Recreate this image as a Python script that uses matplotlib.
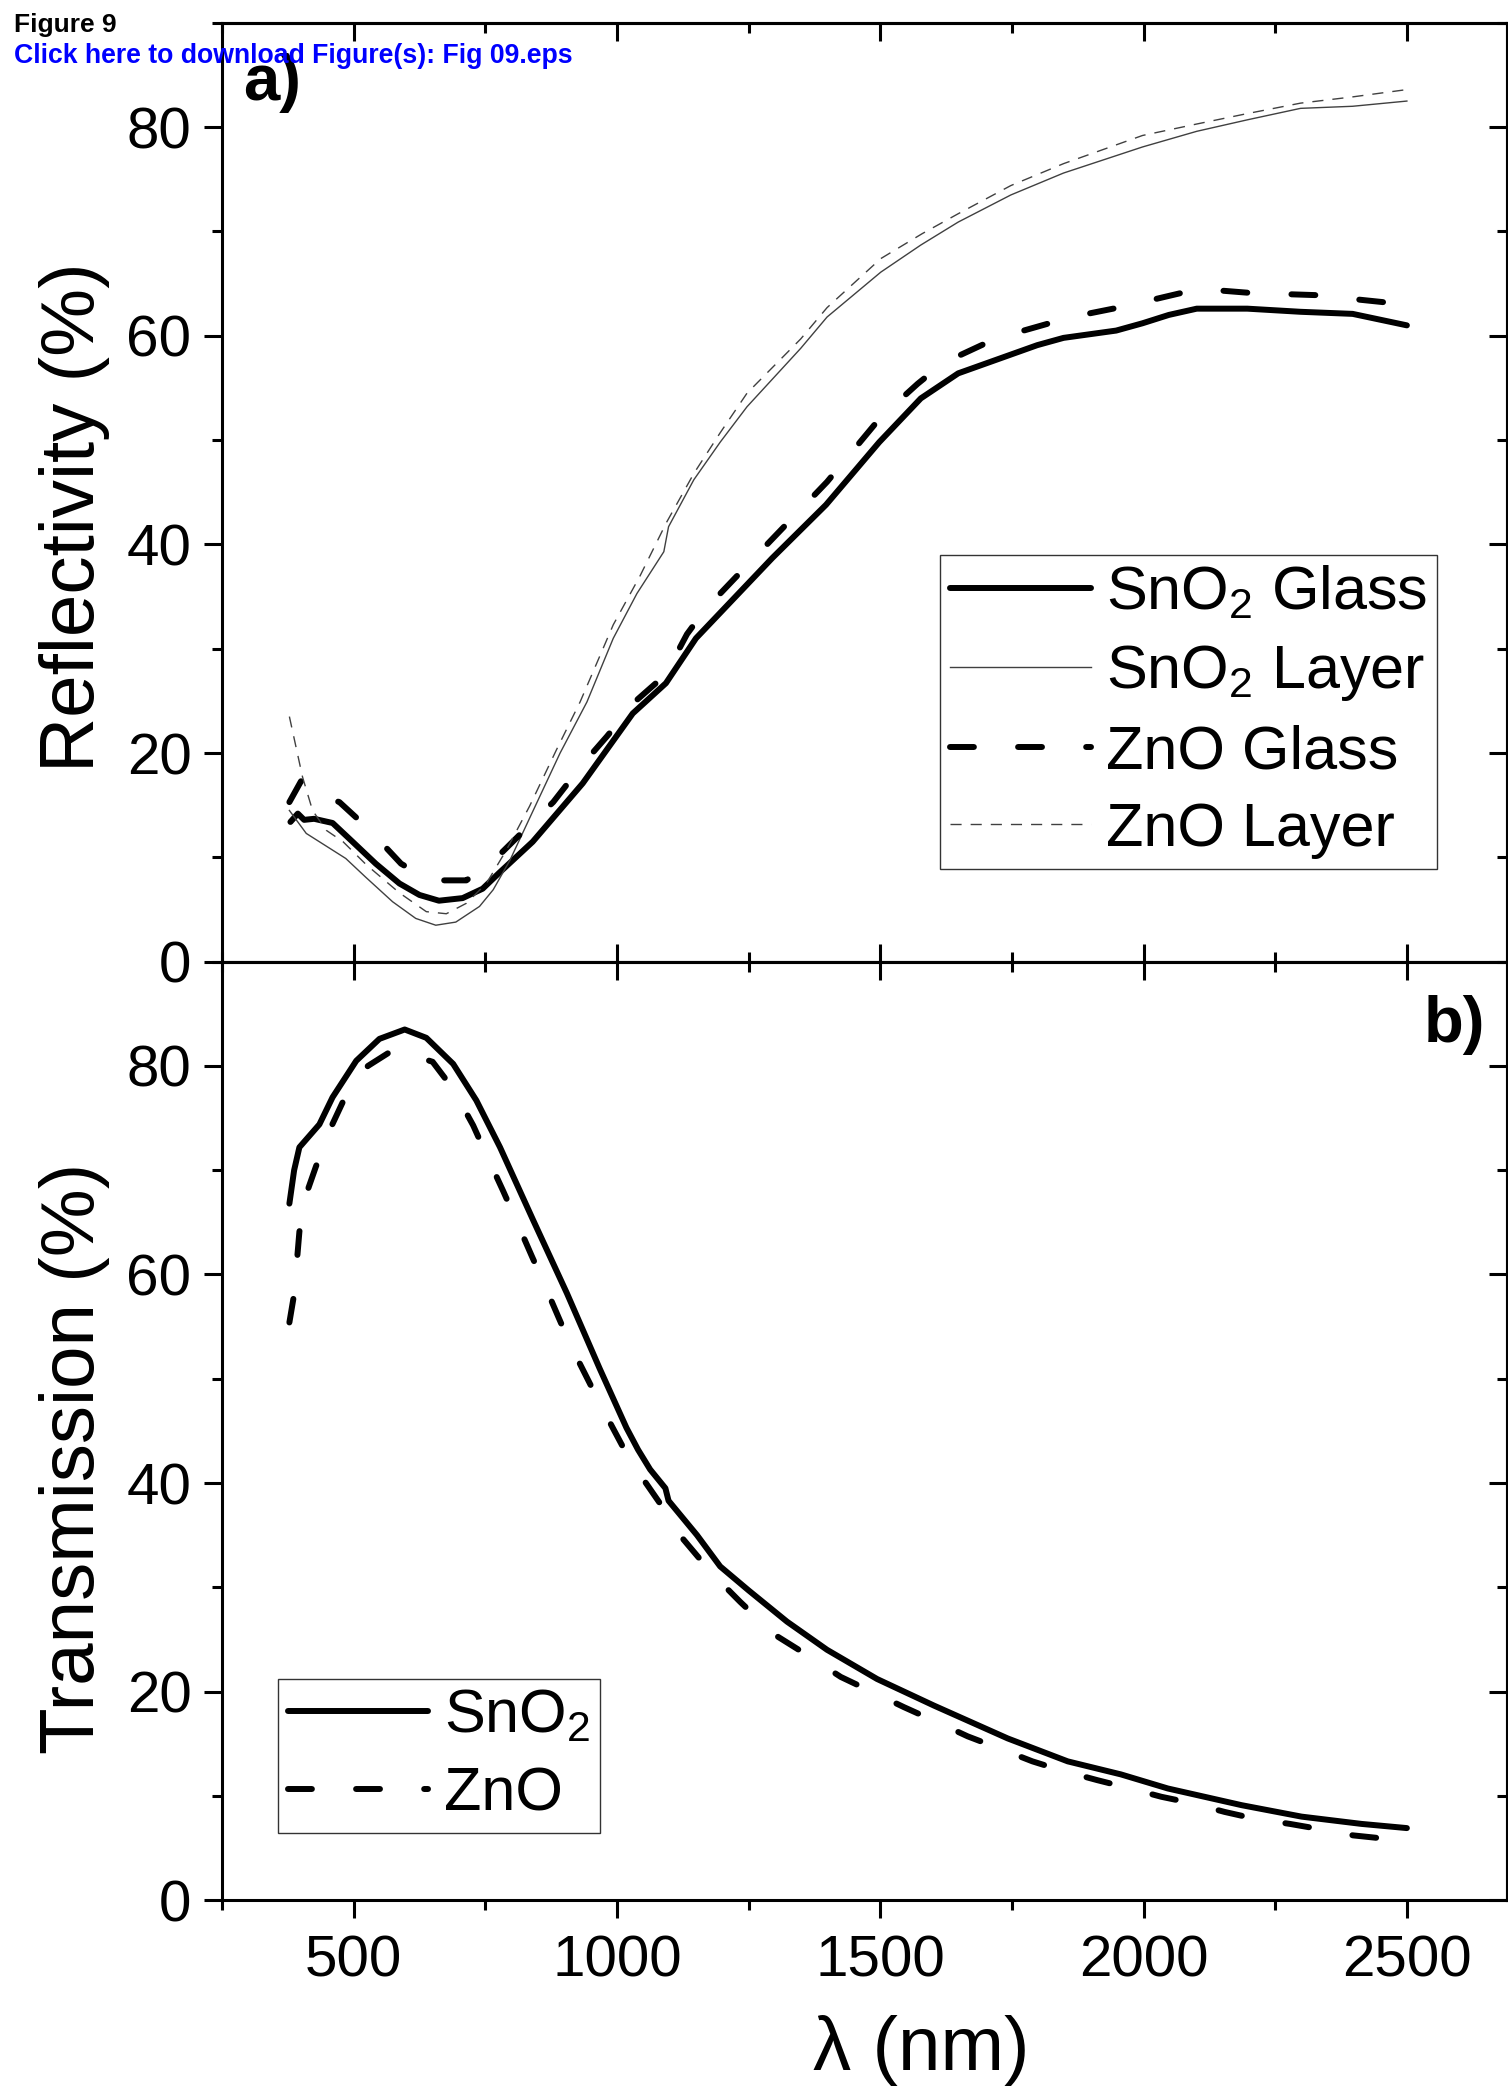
import numpy as np
import matplotlib
matplotlib.use("Agg")
import matplotlib.pyplot as plt
from matplotlib.ticker import MultipleLocator

plt.rcParams['font.family'] = ['Liberation Sans', 'DejaVu Sans']
plt.rcParams['mathtext.fontset'] = 'custom'
plt.rcParams['mathtext.rm'] = 'Liberation Sans'
plt.rcParams['mathtext.default'] = 'regular'

# ---- a) reflectivity (%) ----
wl_sno2_glass = [380, 394, 406, 425, 460, 498, 542, 587, 625, 662, 707, 745, 776, 840, 935, 1030,
                 1093, 1150, 1295, 1397, 1498, 1577, 1648, 1748, 1798, 1848, 1948, 1998, 2048,
                 2101, 2197, 2298, 2397, 2500]
r_sno2_glass = [13.4, 14.2, 13.6, 13.7, 13.3, 11.5, 9.4, 7.5, 6.4, 5.85, 6.1, 7.0, 8.5, 11.5, 17.1,
                23.8, 26.7, 31.0, 38.7, 43.8, 49.8, 54.0, 56.4, 58.2, 59.1, 59.8, 60.5, 61.2, 62.0,
                62.6, 62.6, 62.3, 62.1, 61.0]

wl_sno2_layer = [378, 410, 460, 485, 523, 574, 618, 656, 694, 739, 765, 797, 841, 892, 943, 993,
                 1038, 1089, 1098, 1146, 1196, 1247, 1349, 1399, 1501, 1577, 1648, 1748, 1848,
                 1998, 2101, 2197, 2298, 2397, 2500]
r_sno2_layer = [14.5, 12.3, 10.7, 9.9, 8.1, 5.75, 4.15, 3.5, 3.8, 5.3, 6.9, 9.75, 14.5, 20.0, 24.9,
                31.0, 35.3, 39.3, 41.7, 46.2, 49.8, 53.2, 58.8, 61.8, 66.1, 68.7, 70.9, 73.5, 75.6,
                78.1, 79.6, 80.7, 81.8, 82.0, 82.5]

wl_zno_glass = [378, 400, 409, 473, 527, 590, 644, 714, 764, 834, 879, 936, 981, 1038, 1092, 1133,
                1168, 1285, 1399, 1501, 1571, 1620, 1720, 1863, 1962, 2105, 2205, 2326, 2479, 2500]
r_zno_glass = [15.3, 17.3, 16.5, 15.3, 12.8, 9.4, 7.8, 7.8, 9.6, 13.1, 15.3, 19.0, 21.6, 25.1, 27.5,
               31.4, 33.8, 40.0, 46.0, 52.2, 55.4, 57.4, 59.75, 61.8, 62.8, 64.5, 64.1, 63.9, 63.1, 63.0]

wl_zno_layer = [378, 403, 422, 448, 480, 524, 587, 638, 676, 714, 752, 790, 834, 885, 930, 993,
                1044, 1094, 1146, 1196, 1247, 1349, 1399, 1501, 1580, 1648, 1748, 1848, 1998,
                2101, 2197, 2298, 2397, 2500]
r_zno_layer = [23.5, 17.7, 14.5, 12.6, 11.5, 9.3, 6.6, 4.8, 4.6, 5.6, 7.5, 10.7, 14.9, 20.3, 24.9,
               32.3, 37.0, 42.1, 46.8, 50.7, 54.5, 59.7, 62.7, 67.4, 69.8, 71.7, 74.4, 76.5, 79.2,
               80.3, 81.3, 82.3, 82.9, 83.6]

# ---- b) transmission (%) ----
wl_t_sno2 = [378, 387, 397, 435, 460, 505, 549, 597, 638, 689, 733, 778, 841, 905, 967, 1018, 1040,
             1063, 1092, 1098, 1152, 1196, 1250, 1323, 1399, 1494, 1602, 1742, 1856, 1957, 2046,
             2186, 2300, 2414, 2500]
t_sno2 = [66.8, 70.0, 72.2, 74.4, 77.0, 80.5, 82.6, 83.5, 82.7, 80.2, 76.7, 72.2, 65.2, 58.2, 51.0,
          45.3, 43.2, 41.3, 39.5, 38.3, 35.0, 32.0, 29.7, 26.7, 24.0, 21.2, 18.65, 15.5, 13.3,
          12.05, 10.7, 9.1, 8.0, 7.3, 6.9]

wl_t_zno = [378, 387, 397, 410, 428, 454, 479, 527, 577, 650, 689, 727, 752, 784, 806, 838, 860,
            889, 914, 973, 1012, 1044, 1092, 1126, 1181, 1234, 1301, 1358, 1425, 1479, 1545, 1602,
            1666, 1723, 1789, 1846, 1912, 1967, 2034, 2091, 2154, 2211, 2278, 2335, 2398, 2455, 2500]
t_zno = [55.4, 58.1, 64.1, 67.7, 70.3, 73.8, 76.5, 80.0, 81.6, 80.4, 77.8, 74.3, 71.5, 68.0, 65.5,
         61.8, 59.3, 55.9, 53.0, 47.1, 43.4, 40.8, 37.3, 34.6, 31.3, 28.6, 25.4, 23.6, 21.4, 20.1,
         18.5, 17.2, 15.7, 14.6, 13.3, 12.4, 11.5, 10.8, 9.9, 9.3, 8.45, 7.8, 7.3, 6.8, 6.2, 5.9, 5.7]

# line styles
thick = dict(color='black', lw=4.3, solid_capstyle='round', dash_capstyle='round',
             solid_joinstyle='round')
thin = dict(color='#404040', lw=1.0)
thick_dash = (0, (4.0, 7.4))
thin_dash = (0, (8, 6.5))

fig = plt.figure(figsize=(15.08, 20.93), dpi=100)
ax1 = fig.add_axes([0.1472, 0.5405, 0.8521, 0.4486])
ax2 = fig.add_axes([0.1472, 0.0922, 0.8521, 0.4483])

ax1.plot(wl_sno2_glass, r_sno2_glass, label='SnO$_2$ Glass', **thick)
ax1.plot(wl_sno2_layer, r_sno2_layer, label='SnO$_2$ Layer', **thin)
ax1.plot(wl_zno_glass, r_zno_glass, ls=thick_dash, label='ZnO Glass', **thick)
ax1.plot(wl_zno_layer, r_zno_layer, ls=thin_dash, label='ZnO Layer', **thin)

ax2.plot(wl_t_sno2, t_sno2, label='SnO$_2$', **thick)
ax2.plot(wl_t_zno, t_zno, ls=thick_dash, label='ZnO', **thick)

for ax in (ax1, ax2):
    ax.set_xlim(250, 2690)
    ax.set_ylim(0, 90)
    ax.xaxis.set_major_locator(MultipleLocator(500))
    ax.xaxis.set_minor_locator(MultipleLocator(250))
    ax.yaxis.set_major_locator(MultipleLocator(20))
    ax.yaxis.set_minor_locator(MultipleLocator(10))
    for s in ax.spines.values():
        s.set_linewidth(2.2)
    ax.tick_params(which='both', width=2.2, labelsize=42)
    ax.tick_params(which='major', length=13)
    ax.tick_params(which='minor', length=7.2)
    ax.tick_params(axis='y', which='both', direction='out', right=False, pad=9)
    # top and right ticks point inwards
    sx = ax.secondary_xaxis('top')
    sx.xaxis.set_major_locator(MultipleLocator(500))
    sx.xaxis.set_minor_locator(MultipleLocator(250))
    sx.tick_params(which='both', direction='in', width=2.2, labeltop=False)
    sx.tick_params(which='major', length=13)
    sx.tick_params(which='minor', length=7.2)
    sy = ax.secondary_yaxis('right')
    sy.yaxis.set_major_locator(MultipleLocator(20))
    sy.yaxis.set_minor_locator(MultipleLocator(10))
    sy.tick_params(which='both', direction='in', width=2.2, labelright=False)
    sy.tick_params(which='major', length=13)
    sy.tick_params(which='minor', length=7.2)
    for s in list(sx.spines.values()) + list(sy.spines.values()):
        s.set_linewidth(2.2)

ax1.tick_params(axis='x', which='both', direction='in', top=False, labelbottom=False)
ax2.tick_params(axis='x', which='both', direction='out', top=False, pad=12)

ax1.set_ylabel('Reflectivity (%)', fontsize=55)
ax2.set_ylabel('Transmission (%)', fontsize=55)
ax1.yaxis.set_label_coords(-0.0875, 0.473)
ax2.yaxis.set_label_coords(-0.0875, 0.471)
ax2.set_xlabel('λ (nm)', fontsize=55)
ax2.xaxis.set_label_coords(0.5445, -0.123)

ax1.text(0.0163, 0.968, 'a)', transform=ax1.transAxes, fontsize=47, fontweight='bold',
         ha='left', va='top')
ax2.text(0.983, 0.965, 'b)', transform=ax2.transAxes, fontsize=47, fontweight='bold',
         ha='right', va='top')

leg1 = ax1.legend(loc='upper right', bbox_to_anchor=(0.9455, 0.4331), borderaxespad=0,
                  fontsize=44, handlelength=2.3, handletextpad=0.25, labelspacing=0.34,
                  borderpad=0.16, fancybox=False, framealpha=1)
leg2 = ax2.legend(loc='lower left', bbox_to_anchor=(0.0436, 0.0714), borderaxespad=0,
                  fontsize=44, handlelength=2.3, handletextpad=0.25, labelspacing=0.34,
                  borderpad=0.16, fancybox=False, framealpha=1)
for leg in (leg1, leg2):
    leg.get_frame().set_edgecolor('#333333')
    leg.get_frame().set_linewidth(1.0)

# header from the submission system
fig.text(14 / 1508, 1 - 32 / 2093, 'Figure 9', fontsize=19, fontweight='bold', va='baseline')
fig.text(14 / 1508, 1 - 63 / 2093, 'Click here to download Figure(s): Fig 09.eps', fontsize=19.2,
         fontweight='bold', color='#0000ff', va='baseline')

fig.savefig('out.png', dpi=100)
